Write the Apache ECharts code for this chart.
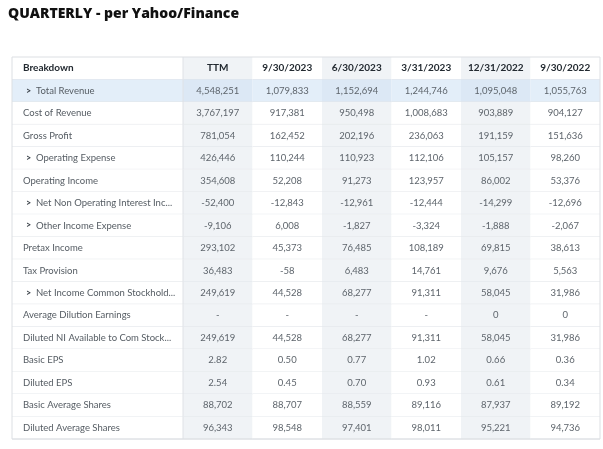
<!DOCTYPE html>
<html>
<head>
<meta charset="utf-8">
<script src="https://cdn.jsdelivr.net/npm/echarts@6/dist/echarts.min.js"></script>
<style>
  html, body { margin: 0; padding: 0; background: #fff; }
  #main { width: 603px; height: 449px; }
</style>
</head>
<body>
<div id="main"></div>
<script>
let periods = ['TTM', '9/30/2023', '6/30/2023', '3/31/2023', '12/31/2022', '9/30/2022'];

let rowLabels = ['Breakdown', 'Total Revenue', 'Cost of Revenue', 'Gross Profit', 'Operating Expense',
  'Operating Income', 'Net Non Operating Interest Inc...', 'Other Income Expense', 'Pretax Income',
  'Tax Provision', 'Net Income Common Stockhold...', 'Average Dilution Earnings',
  'Diluted NI Available to Com Stock...', 'Basic EPS', 'Diluted EPS', 'Basic Average Shares',
  'Diluted Average Shares'];

let expandable = ['Total Revenue', 'Operating Expense', 'Net Non Operating Interest Inc...',
  'Other Income Expense', 'Net Income Common Stockhold...'];
let decimalRows = ['Basic EPS', 'Diluted EPS'];

// values per period, same order as rowLabels (without the header row); null = "-"
let ttm = [4548251, 3767197, 781054, 426446, 354608, -52400, -9106, 293102, 36483, 249619, null, 249619, 2.82, 2.54, 88702, 96343];
let q2023_09 = [1079833, 917381, 162452, 110244, 52208, -12843, 6008, 45373, -58, 44528, null, 44528, 0.50, 0.45, 88707, 98548];
let q2023_06 = [1152694, 950498, 202196, 110923, 91273, -12961, -1827, 76485, 6483, 68277, null, 68277, 0.77, 0.70, 88559, 97401];
let q2023_03 = [1244746, 1008683, 236063, 112106, 123957, -12444, -3324, 108189, 14761, 91311, null, 91311, 1.02, 0.93, 89116, 98011];
let q2022_12 = [1095048, 903889, 191159, 105157, 86002, -14299, -1888, 69815, 9676, 58045, 0, 58045, 0.66, 0.61, 87937, 95221];
let q2022_09 = [1055763, 904127, 151636, 98260, 53376, -12696, -2067, 38613, 5563, 31986, 0, 31986, 0.36, 0.34, 89192, 94736];

let columns = [ttm, q2023_09, q2023_06, q2023_03, q2022_12, q2022_09];

function fmt(v, label) {
  if (v === null) return '-';
  let dec = decimalRows.indexOf(label) >= 0 ? 2 : 0;
  return v.toLocaleString('en-US', { minimumFractionDigits: dec, maximumFractionDigits: dec });
}

// cells: [col, row, text]
let labelCells = rowLabels.map((r, i) => [0, i, r]);
let valueCells = [];
periods.forEach((p, c) => {
  valueCells.push([c, 0, p]);
  columns[c].forEach((v, i) => {
    valueCells.push([c, i + 1, fmt(v, rowLabels[i + 1])]);
  });
});

const FONT = 'Lato, "Open Sans", sans-serif';

function cellBg(col, row, isLabel) {
  let shaded = !isLabel && col % 2 === 0;
  if (row === 1) return shaded ? '#dce8f5' : '#e3eef9';
  return shaded ? '#f0f3f6' : '#ffffff';
}

function makeRender(isLabel) {
  return function (params, api) {
    let col = api.value(0), row = api.value(1);
    let text = api.value(2);
    let c = api.coord([col, row]);
    let s = api.size([1, 1]);
    let x0 = c[0] - s[0] / 2, y0 = c[1] - s[1] / 2;
    let children = [{
      type: 'rect',
      shape: { x: x0, y: y0, width: s[0], height: s[1] },
      style: { fill: cellBg(col, row, isLabel) },
      silent: true
    }, {
      type: 'line',
      shape: { x1: x0, y1: y0 + s[1], x2: x0 + s[0], y2: y0 + s[1] },
      style: { stroke: '#e3e6ea', lineWidth: 1 }
    }];
    let header = row === 0;
    if (isLabel) {
      let exp = expandable.indexOf(text) >= 0;
      if (exp) {
        children.push({
          type: 'text',
          style: { text: '>', x: x0 + 14, y: c[1], align: 'left', verticalAlign: 'middle',
            font: 'bold 9px ' + FONT, fill: '#3a4148' }
        });
      }
      children.push({
        type: 'text',
        style: {
          text: text, x: x0 + (exp ? 24 : 11), y: c[1], align: 'left', verticalAlign: 'middle',
          font: (header ? 'bold 10px ' : '9.5px ') + FONT, fill: header ? '#232a31' : '#555c63'
        }
      });
    } else {
      if (col === 0) {
        children.push({
          type: 'line',
          shape: { x1: x0, y1: y0, x2: x0, y2: y0 + s[1] },
          style: { stroke: '#dfe2e6', lineWidth: 1 }
        });
      }
      children.push({
        type: 'text',
        style: {
          text: text, x: c[0], y: c[1], align: 'center', verticalAlign: 'middle',
          font: (header ? 'bold 10px ' : '9.5px ') + FONT, fill: header ? '#232a31' : '#5e656c'
        }
      });
    }
    return { type: 'group', children: children };
  };
}

let myChart = echarts.init(document.getElementById('main'));
myChart.setOption({
  animation: false,
  title: {
    text: 'QUARTERLY - per Yahoo/Finance',
    left: 3,
    top: 2,
    textStyle: { fontFamily: 'Open Sans', fontWeight: 800, fontSize: 14, color: '#111' }
  },
  grid: [
    { left: 12, width: 171, top: 57, height: 382, show: true, borderColor: '#dcdfe3', borderWidth: 0 },
    { left: 183, width: 417, top: 57, height: 382, show: true, borderColor: '#dcdfe3', borderWidth: 0 }
  ],
  xAxis: [
    { gridIndex: 0, type: 'category', data: ['Breakdown'], show: false },
    { gridIndex: 1, type: 'category', data: periods, show: false }
  ],
  yAxis: [
    { gridIndex: 0, type: 'category', data: rowLabels, inverse: true, show: false },
    { gridIndex: 1, type: 'category', data: rowLabels, inverse: true, show: false }
  ],
  graphic: [{
    type: 'rect',
    shape: { x: 12, y: 57, width: 588, height: 382 },
    style: { fill: 'none', stroke: '#dcdfe3', lineWidth: 1 },
    z: 100
  }],
  series: [{
    type: 'custom',
    xAxisIndex: 0,
    yAxisIndex: 0,
    renderItem: makeRender(true),
    data: labelCells
  }, {
    type: 'custom',
    xAxisIndex: 1,
    yAxisIndex: 1,
    renderItem: makeRender(false),
    data: valueCells
  }]
});
</script>
</body>
</html>
